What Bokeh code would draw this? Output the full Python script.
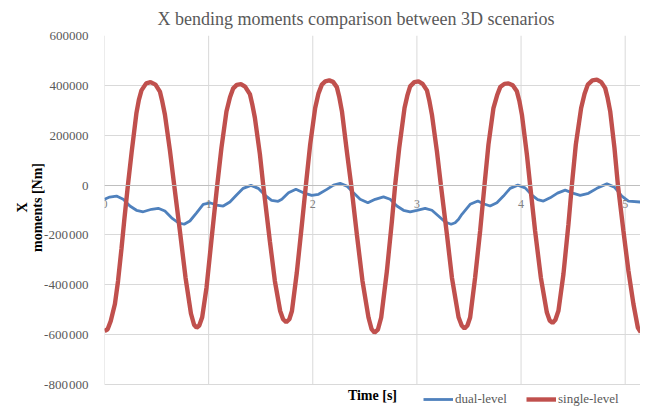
from bokeh.plotting import figure
from bokeh.models import Range1d, FixedTicker, LinearAxis, Label
from bokeh.embed import file_html
from bokeh.resources import INLINE

title_text = "X bending moments comparison between 3D scenarios"
x_label = "Time [s]"
y_label = "\u00a0" * 8 + "X\n" + "\u00a0" * 8 + "moments [Nm]"

x_ticks = [0, 1, 2, 3, 4, 5]
x_tick_labels = ["0", "1", "2", "3", "4", "5"]
y_ticks = [-800000, -600000, -400000, -200000, 0, 200000, 400000, 600000]
y_tick_labels = ["-800\u200a000", "-600\u200a000", "-400\u200a000", "-200\u200a000", "0",
                 "200000", "400000", "600000"]

single_t = [0.00, 0.03, 0.06, 0.10, 0.13, 0.163, 0.19, 0.225, 0.26, 0.307, 0.33, 0.355, 0.40,
            0.442, 0.49, 0.532, 0.555, 0.58, 0.628, 0.669, 0.724, 0.778, 0.83, 0.86, 0.884, 0.91,
            0.938, 0.98, 1.027, 1.08, 1.123, 1.171, 1.205, 1.236, 1.27, 1.31, 1.35, 1.396, 1.42,
            1.444, 1.492, 1.524, 1.588, 1.636, 1.687, 1.715, 1.745, 1.775, 1.80, 1.847, 1.895,
            1.934, 1.975, 2.023, 2.055, 2.087, 2.12, 2.158, 2.195, 2.231, 2.255, 2.28, 2.327,
            2.369, 2.423, 2.477, 2.535, 2.565, 2.593, 2.625, 2.657, 2.712, 2.76, 2.791, 2.83,
            2.881, 2.91, 2.935, 2.975, 3.015, 3.055, 3.096, 3.12, 3.144, 3.192, 3.23, 3.288,
            3.336, 3.40, 3.43, 3.457, 3.485, 3.511, 3.559, 3.607, 3.649, 3.687, 3.735, 3.77,
            3.80, 3.84, 3.879, 3.92, 3.96, 3.985, 4.008, 4.056, 4.087, 4.135, 4.19, 4.248, 4.275,
            4.302, 4.33, 4.359, 4.407, 4.455, 4.488, 4.526, 4.577, 4.61, 4.641, 4.685, 4.728,
            4.77, 4.808, 4.832, 4.856, 4.897, 4.93, 4.983, 5.031, 5.079, 5.121, 5.15]
single_level = [-585000, -578000, -545000, -477000, -385000, -255000, -140000, 0, 130000,
                290000, 342000, 380000, 408000, 413000, 403000, 375000, 335000, 283000, 140000,
                0, -184000, -371000, -515000, -560000, -572000, -563000, -530000, -410000,
                -220000, -10000, 150000, 295000, 352000, 388000, 402000, 405000, 395000, 365000,
                322000, 270000, 125000, 0, -225000, -385000, -505000, -538000, -550000, -538000,
                -505000, -350000, -160000, 0, 163000, 309000, 368000, 403000, 416000, 420000,
                414000, 393000, 352000, 296000, 136000, 0, -197000, -384000, -531000, -578000,
                -592000, -580000, -531000, -344000, -144000, 0, 149000, 309000, 362000, 396000,
                413000, 416000, 406000, 380000, 337000, 283000, 136000, 0, -197000, -371000,
                -530000, -563000, -575000, -563000, -531000, -371000, -184000, 0, 163000,
                309000, 360000, 393000, 406000, 408000, 400000, 376000, 335000, 283000, 123000,
                0, -184000, -371000, -511000, -543000, -553000, -540000, -504000, -357000,
                -157000, 0, 163000, 309000, 366000, 403000, 420000, 423000, 413000, 389000,
                348000, 296000, 149000, 0, -184000, -344000, -477000, -571000, -590000]

dual_t = [0.00, 0.05, 0.115, 0.18, 0.244, 0.307, 0.372, 0.452, 0.516, 0.58, 0.644, 0.708, 0.765,
          0.82, 0.884, 0.948, 1.012, 1.075, 1.14, 1.204, 1.268, 1.332, 1.406, 1.476, 1.54, 1.604,
          1.668, 1.703, 1.767, 1.838, 1.91, 1.99, 2.055, 2.135, 2.199, 2.263, 2.327, 2.391,
          2.455, 2.529, 2.599, 2.679, 2.743, 2.808, 2.871, 2.935, 3.0, 3.079, 3.144, 3.207,
          3.271, 3.329, 3.367, 3.4, 3.432, 3.511, 3.585, 3.639, 3.703, 3.768, 3.831, 3.895,
          3.969, 4.039, 4.104, 4.16, 4.215, 4.279, 4.35, 4.424, 4.488, 4.568, 4.647, 4.728,
          4.824, 4.897, 4.968, 5.031, 5.15]
dual_level = [-57000, -48000, -44000, -57000, -84000, -101000, -107000, -97000, -93000, -104000,
              -131000, -151000, -157000, -144000, -111000, -77000, -71000, -80000, -84000,
              -68000, -40000, -13000, -1000, -13000, -40000, -61000, -65000, -57000, -31000,
              -17000, -31000, -41000, -37000, -17000, 0, 7000, -4000, -31000, -57000, -71000,
              -57000, -47000, -57000, -84000, -101000, -107000, -101000, -93000, -101000,
              -124000, -148000, -157000, -151000, -137000, -117000, -77000, -64000, -75000,
              -84000, -71000, -44000, -13000, 0, -11000, -40000, -58000, -64000, -51000, -32000,
              -20000, -31000, -41000, -33000, -13000, 5000, -8000, -44000, -64000, -68000]

SERIF = "Liberation Serif"
GRID = "#d9d9d9"

p = figure(width=640, height=407, output_backend="svg", toolbar_location=None,
           x_range=Range1d(0, 5.147), y_range=Range1d(-892000, 600000),
           x_axis_location=None, min_border_left=104, min_border_right=0,
           min_border_top=34, min_border_bottom=0)
p.outline_line_color = None
p.background_fill_color = "white"
p.border_fill_color = "white"

p.title.text = title_text
p.title.align = "left"
p.title.offset = 53
p.title.text_font = SERIF
p.title.text_font_size = "18px"
p.title.text_font_style = "normal"
p.title.text_color = "#595959"
p.title.standoff = 13

# vertical grid lines only over the value span
p.segment(x0=x_ticks, y0=[y_ticks[0]] * len(x_ticks), x1=x_ticks, y1=[y_ticks[-1]] * len(x_ticks),
          line_color=GRID, line_width=1)
p.xgrid.grid_line_color = None
p.ygrid.ticker = FixedTicker(ticks=y_ticks)
p.ygrid.grid_line_color = GRID

# x axis crossing at zero
xaxis = LinearAxis(fixed_location=0, ticker=FixedTicker(ticks=x_ticks))
xaxis.major_label_overrides = {t: l for t, l in zip(x_ticks, x_tick_labels)}
xaxis.axis_line_color = "#bfbfbf"
xaxis.axis_line_width = 1
xaxis.major_tick_line_color = None
xaxis.minor_tick_line_color = None
xaxis.major_label_standoff = 9
xaxis.major_label_text_font = SERIF
xaxis.major_label_text_font_size = "12px"
xaxis.major_label_text_color = "#808080"
p.add_layout(xaxis, "below")

yaxis = p.yaxis[0]
yaxis.ticker = FixedTicker(ticks=y_ticks)
yaxis.major_label_overrides = {t: l for t, l in zip(y_ticks, y_tick_labels)}
yaxis.axis_line_color = None
yaxis.major_tick_line_color = None
yaxis.minor_tick_line_color = None
yaxis.major_label_standoff = 10
yaxis.major_label_text_font = SERIF
yaxis.major_label_text_font_size = "13px"
yaxis.major_label_text_color = "#595959"
yaxis.axis_label = y_label
yaxis.axis_label_text_font = SERIF
yaxis.axis_label_text_font_size = "14px"
yaxis.axis_label_text_font_style = "bold"
yaxis.axis_label_text_color = "#000000"
yaxis.axis_label_text_line_height = 1.0
yaxis.axis_label_standoff = -4

p.line(dual_t, dual_level, line_color="#4f81bd", line_width=2.8, legend_label="dual-level")
p.line(single_t, single_level, line_color="#c0504d", line_width=4.4, legend_label="single-level")

p.add_layout(Label(x=2.573, y=-844000, text=x_label, text_align="center", text_baseline="middle",
                   text_font=SERIF, text_font_size="14px", text_font_style="bold",
                   text_color="#000000"))

lg = p.legend[0]
lg.orientation = "horizontal"
lg.location = (319, 0)
lg.background_fill_alpha = 0
lg.border_line_color = None
lg.padding = 0
lg.margin = 0
lg.spacing = 19
lg.glyph_width = 30
lg.glyph_height = 14
lg.label_standoff = 2
lg.label_text_font = SERIF
lg.label_text_font_size = "13px"
lg.label_text_color = "#595959"

open("out.html", "w").write(file_html(p, INLINE))
